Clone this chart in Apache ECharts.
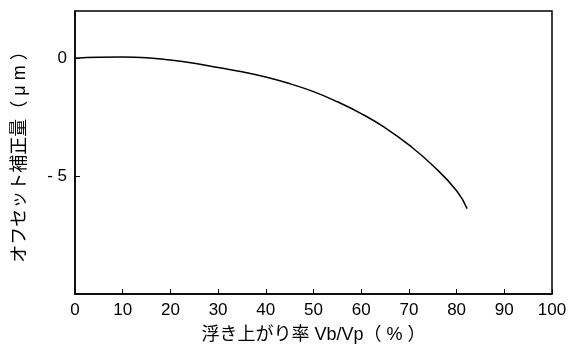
<!DOCTYPE html>
<html>
<head>
<meta charset="utf-8">
<script src="https://cdn.jsdelivr.net/npm/echarts@6/dist/echarts.min.js"></script>
<style>
  html, body { margin: 0; padding: 0; background: #fff; }
  #chart { width: 574px; height: 346px; }
</style>
</head>
<body>
<div id="chart"></div>
<script>
// float-up ratio Vb/Vp (%) vs offset correction (um)
const ratio = [0, 5, 10, 15, 20, 25, 30, 35, 40, 45, 50, 55, 60, 65, 70, 75, 80, 82.2];
const offset = [0, 0.04, 0.05, 0.02, -0.08, -0.22, -0.40, -0.58, -0.80, -1.08, -1.42, -1.85, -2.35, -2.95, -3.68, -4.55, -5.62, -6.38];
const yTicks = [0, -5];

const font = '"Liberation Sans", Arial, "Noto Sans CJK JP", sans-serif';

const chart = echarts.init(document.getElementById('chart'));

chart.setOption({
    animation: false,
    grid: {
        left: 75, right: 22, top: 11, bottom: 52,
        outerBoundsMode: 'none',
        show: true, borderColor: '#000', borderWidth: 1.5, backgroundColor: 'transparent',
    },
    xAxis: {
        type: 'value',
        min: 0,
        max: 100,
        interval: 10,
        name: '浮き上がり率 Vb/Vp（ % ）',
        nameLocation: 'middle',
        nameGap: 32,
        nameTextStyle: { color: '#000', fontSize: 18, fontFamily: font },
        axisLine: { show: true, onZero: false, lineStyle: { color: '#000', width: 1.5 } },
        axisTick: { show: true, inside: true, length: 5, lineStyle: { color: '#000' } },
        axisLabel: { color: '#000', fontSize: 17, fontFamily: font, margin: 8 },
        splitLine: { show: false },
    },
    yAxis: {
        type: 'value',
        min: -10,
        max: 2,
        name: 'オフセット補正量（ μ m ）',
        nameLocation: 'middle',
        nameGap: 46,
        nameRotate: 90,
        nameTextStyle: { color: '#000', fontSize: 18, fontFamily: font },
        axisLine: { show: true, onZero: false, lineStyle: { color: '#000', width: 1.5 } },
        axisTick: { show: true, inside: true, length: 5, customValues: yTicks, lineStyle: { color: '#000' } },
        axisLabel: {
            color: '#000', fontSize: 17, fontFamily: font, margin: 8,
            customValues: yTicks,
            formatter: v => (v < 0 ? '- ' + Math.abs(v) : String(v)),
        },
        splitLine: { show: false },
    },
    series: [
        {
            type: 'line',
            data: ratio.map((x, i) => [x, offset[i]]),
            smooth: 0.5,
            showSymbol: false,
            lineStyle: { color: '#000', width: 1.5 },
        },
    ],
});
</script>
</body>
</html>
